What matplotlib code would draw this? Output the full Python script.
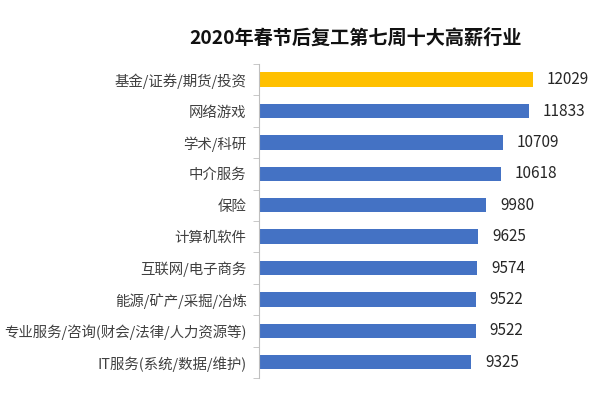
import numpy as np
import matplotlib.pyplot as plt

plt.rcParams['font.family'] = ['Noto Sans CJK SC', 'DejaVu Sans']

行业 = ["基金/证券/期货/投资", "网络游戏", "学术/科研", "中介服务", "保险", "计算机软件",
      "互联网/电子商务", "能源/矿产/采掘/冶炼", "专业服务/咨询(财会/法律/人力资源等)",
      "IT服务(系统/数据/维护)"]
薪资 = [12029, 11833, 10709, 10618, 9980, 9625, 9574, 9522, 9522, 9325]
颜色 = ['#FFC000'] + ['#4472C4'] * 9

fig = plt.figure(figsize=(5.95, 3.97), dpi=100)
ax = fig.add_axes([0.4353, 0.048, 0.536, 0.791])

y = np.arange(len(行业))
bars = ax.barh(y, 薪资, height=0.46, color=颜色)
for b in bars:
    w = b.get_width()
    ax.annotate('{}'.format(int(w)), xy=(w, b.get_y() + b.get_height() / 2), xytext=(10, 0),
                textcoords="offset points", ha='left', va='center', fontsize=11, color='#262626')

ax.set_xlim(0, 14000)
ax.set_ylim(len(行业) - 0.5, -0.5)
ax.set_yticks(y)
ax.set_yticklabels(行业, fontsize=10.4, color='#404040')
ax.tick_params(axis='y', which='major', length=0, pad=9)
ax.set_yticks(np.arange(-0.5, len(行业), 1), minor=True)
ax.tick_params(axis='y', which='minor', length=4, color='#BFBFBF')
ax.set_xticks([])
for s in ['top', 'right', 'bottom']:
    ax.spines[s].set_visible(False)
ax.spines['left'].set_color('#BFBFBF')

fig.text(0.597, 0.905, "2020年春节后复工第七周十大高薪行业", ha='center', va='center',
         fontsize=13.8, fontweight='bold', color='#111111')

fig.savefig('out.png', dpi=100)
